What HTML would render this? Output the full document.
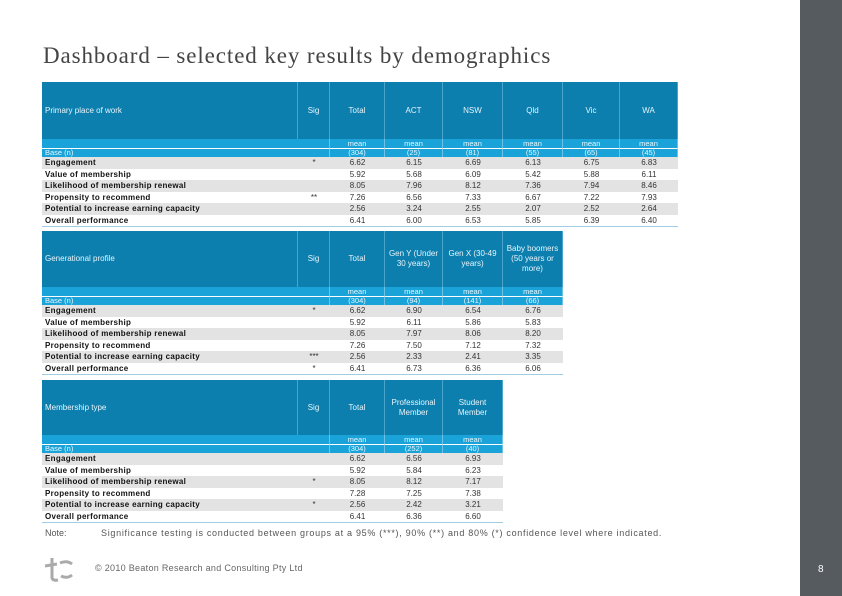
<!DOCTYPE html>
<html><head><meta charset="utf-8"><style>
body{margin:0;width:842px;height:596px;position:relative;background:#fff;font-family:"Liberation Sans",sans-serif;overflow:hidden}
.abs{position:absolute}
.tbl{position:absolute;left:42px}
.cell{position:absolute;box-sizing:border-box;font-size:8px;color:#333;white-space:nowrap;overflow:hidden}
.hd{background:#0c7fae;color:#e8f4fa;display:flex;align-items:center;justify-content:center;text-align:center;line-height:10px;white-space:normal;border-right:1px solid #49a5cc}
.mn{background:#1aa3d9;color:#e8f6fc;text-align:center;border-right:1px solid #6cc3e6;font-size:7.5px}
.lbl{font-weight:bold;color:#111;padding-left:3px}
.num{text-align:center}
</style></head><body>
<div class="abs" style="left:43px;top:43px;font-family:'Liberation Serif',serif;font-size:23px;letter-spacing:0.9px;color:#444">Dashboard – selected key results by demographics</div>
<div class="abs" style="left:800px;top:0;width:42px;height:596px;background:#565b5f"></div>
<div class="abs" style="left:818px;top:564px;color:#fff;font-size:10px">8</div>
<div class="abs" style="left:45px;top:528px;font-size:9px;color:#555">Note:</div>
<div class="abs" style="left:101px;top:528px;font-size:9px;letter-spacing:0.7px;color:#555">Significance testing is conducted between groups at a 95% (***), 90% (**) and 80% (*) confidence level where indicated.</div>
<svg class="abs" style="left:43px;top:556px" width="30" height="26"><path d="M2 10 L14 8 M9 2 L9 22 Q10 25 15 24 M17 7 Q24 4 29 8 M18 20 Q24 23 29 19" stroke="#aaa" stroke-width="3" fill="none"/></svg>
<div class="abs" style="left:95px;top:563px;font-size:9px;letter-spacing:0.3px;color:#666">© 2010 Beaton Research and Consulting Pty Ltd</div>
<div id="root"></div>
<script>
const rowLabels=["Engagement","Value of membership","Likelihood of membership renewal","Propensity to recommend","Potential to increase earning capacity","Overall performance"];
const t1Title="Primary place of work";
const t1Cols=["Total","ACT","NSW","Qld","Vic","WA"];
const t1Base=["(304)","(25)","(81)","(55)","(65)","(45)"];
const t1Sig=["*","","","**","",""];
const t1Vals=[["6.62","6.15","6.69","6.13","6.75","6.83"],["5.92","5.68","6.09","5.42","5.88","6.11"],["8.05","7.96","8.12","7.36","7.94","8.46"],["7.26","6.56","7.33","6.67","7.22","7.93"],["2.56","3.24","2.55","2.07","2.52","2.64"],["6.41","6.00","6.53","5.85","6.39","6.40"]];
const t2Title="Generational profile";
const t2Cols=["Total","Gen Y (Under 30 years)","Gen X (30-49 years)","Baby boomers (50 years or more)"];
const t2Base=["(304)","(94)","(141)","(66)"];
const t2Sig=["*","","","","***","*"];
const t2Vals=[["6.62","6.90","6.54","6.76"],["5.92","6.11","5.86","5.83"],["8.05","7.97","8.06","8.20"],["7.26","7.50","7.12","7.32"],["2.56","2.33","2.41","3.35"],["6.41","6.73","6.36","6.06"]];
const t3Title="Membership type";
const t3Cols=["Total","Professional Member","Student Member"];
const t3Base=["(304)","(252)","(40)"];
const t3Sig=["","","*","","*",""];
const t3Vals=[["6.62","6.56","6.93"],["5.92","5.84","6.23"],["8.05","8.12","7.17"],["7.28","7.25","7.38"],["2.56","2.42","3.21"],["6.41","6.36","6.60"]];
const colX=[0,256,288,343,401,461,521,578,636];
function cell(parent,cls,x,y,w,h,txt,name){
  const d=document.createElement('div');
  d.className='cell '+cls;
  d.style.left=x+'px';d.style.top=y+'px';d.style.width=w+'px';d.style.height=h+'px';
  if(!cls.includes('hd'))d.style.lineHeight=h+'px';
  d.textContent=txt;
  
  
  parent.appendChild(d);return d;
}
function table(top,title,cols,base,sig,vals,hh,name){
  const t=document.createElement('div');t.className='tbl';t.style.top=top+'px';
  
  
  document.getElementById('root').appendChild(t);
  const n=cols.length;const W=colX[2+n];
  const h1=cell(t,'hd',0,0,256,hh,title,'table-title');h1.style.justifyContent='flex-start';h1.style.paddingLeft='3px';
  cell(t,'hd',256,0,32,hh,'Sig','sig-header');
  cols.forEach((c,i)=>cell(t,'hd',colX[2+i],0,colX[3+i]-colX[2+i],hh,c,'column-header'));
  cell(t,'mn',0,hh,288,9,'','mean-row-blank');
  cols.forEach((c,i)=>cell(t,'mn',colX[2+i],hh,colX[3+i]-colX[2+i],9,'mean','mean-label'));
  const by=hh+9;
  const b=cell(t,'mn',0,by,288,9,'Base (n)','base-label');b.style.textAlign='left';b.style.paddingLeft='3px';b.style.borderTop='1px solid #fff';b.style.lineHeight='8px';
  base.forEach((v,i)=>{const c=cell(t,'mn',colX[2+i],by,colX[3+i]-colX[2+i],9,v,'base-value');c.style.borderTop='1px solid #fff';c.style.lineHeight='8px';});
  rowLabels.forEach((lab,r)=>{
    const y=by+9+r*11.5;const bg=r%2===0?'#e3e3e3':'#fff';
    const l=cell(t,'lbl',0,y,256,11.5,lab,'row-label');l.style.background=bg;l.style.letterSpacing='0.3px';
    const s=cell(t,'num',256,y,32,11.5,sig[r],'sig-value');s.style.background=bg;
    vals[r].forEach((v,i)=>{const c=cell(t,'num',colX[2+i],y,colX[3+i]-colX[2+i],11.5,v,'value-cell');c.style.background=bg;});
  });
  const line=document.createElement('div');line.className='cell';line.style.cssText+=`left:0;top:${by+9+69}px;width:${W}px;height:1px;background:#9fcde2`;
  
  
  t.appendChild(line);
}
table(82,t1Title,t1Cols,t1Base,t1Sig,t1Vals,57,'table-place-of-work');
table(231,t2Title,t2Cols,t2Base,t2Sig,t2Vals,56,'table-generation');
table(380,t3Title,t3Cols,t3Base,t3Sig,t3Vals,55,'table-membership-type');
</script>
</body></html>
